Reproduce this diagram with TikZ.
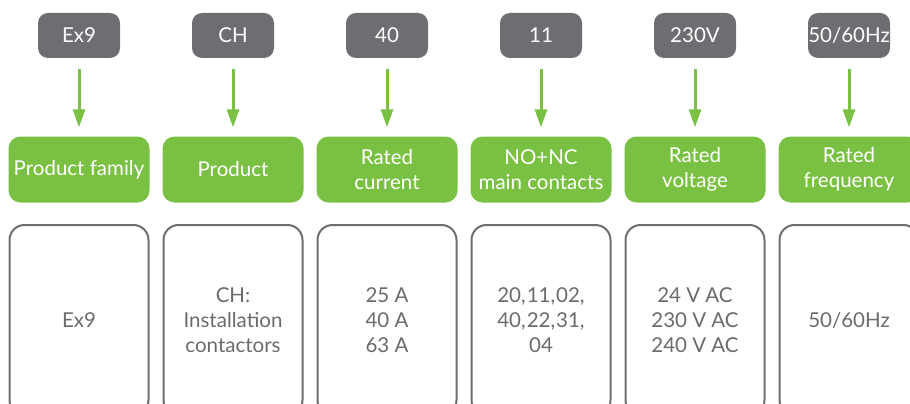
\documentclass[tikz,border=0pt]{standalone}
\usepackage{fontspec}
\setmainfont{Lato}
\usetikzlibrary{arrows.meta}
\definecolor{codegray}{HTML}{6D6E71}
\definecolor{brandgreen}{HTML}{7AC143}
\definecolor{textgray}{HTML}{6A6B6E}
\begin{document}
\begin{tikzpicture}[x=1pt,y=-1pt,
  basefont/.style={font=\fontsize{20.5}{25}\selectfont},
  codebox/.style={basefont,fill=codegray,text=white,rounded corners=10pt,minimum width=82pt,minimum height=45pt,inner sep=0pt},
  labelbox/.style={basefont,fill=brandgreen,text=white,rounded corners=12pt,minimum width=141pt,minimum height=66pt,inner sep=0pt,align=center},
  valuebox/.style={basefont,draw=codegray,line width=2pt,text=textgray,rounded corners=15pt,minimum width=139pt,minimum height=190pt,inner sep=0pt,align=center},
  flow/.style={draw=brandgreen,line width=3pt,-{Triangle[width=12pt,length=18pt]},shorten <=11pt,shorten >=9pt}
]
\useasboundingbox (0,0) rectangle (910,404);
\clip (0,0) rectangle (910,404);
\fill[white] (0,0) rectangle (910,404);
\foreach \x/\n/\code/\lab/\val in {
  79/a/Ex9/{Product family}/{Ex9},
  233/b/CH/{Product}/{CH:\\Installation\\contactors},
  387/c/40/{Rated\\current}/{25 A\\40 A\\63 A},
  541/d/11/{NO+NC\\main contacts}/{20,\kern1pt11,\kern1pt02,\\40,\kern1pt22,\kern1pt31,\\04},
  695/e/230V/{Rated\\voltage}/{24 V AC\\230 V AC\\240 V AC},
  849/f/50\slash 60Hz/{Rated\\frequency}/{50\slash 60Hz}} {
  \node[codebox] (code\n) at (\x,35.5) {\code};
  \node[labelbox] (lab\n) at (\x,169.5) {\lab};
  \node[valuebox] (val\n) at (\x,320) {\val};
  \draw[flow] (code\n) -- (lab\n);
}
\end{tikzpicture}
\end{document}
